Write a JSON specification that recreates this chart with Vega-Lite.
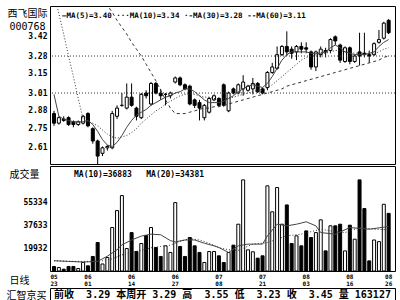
{
  "$schema": "https://vega.github.io/schema/vega-lite/v6.json",
  "padding": {"left": 5, "top": 5, "right": 7, "bottom": 1},
  "background": "white",
  "spacing": 0,
  "config": {
    "view": {"stroke": "black", "strokeWidth": 1},
    "axis": {"labelFont": "DejaVu Sans Mono", "labelFontSize": 8, "labelFontWeight": "bold", "labelColor": "black", "ticks": false, "domain": false, "grid": false, "titleColor": "black", "titleFont": "DejaVu Sans Mono, Noto Sans CJK SC", "titleFontWeight": "normal", "titleFontSize": 10, "labelOverlap": false, "labelPadding": 3},
    "title": {"anchor": "start", "frame": "group", "font": "DejaVu Sans Mono", "fontWeight": "bold", "color": "black", "fontSize": 8}
  },
  "datasets": {
    "k": [
      {"d":"05-23","o":2.86,"h":2.88,"l":2.77,"c":2.79,"v":6080,"m5":3.00,"m10":3.75,"vm10":10500,"vm20":10500},
      {"d":"05-24","o":2.79,"h":2.84,"l":2.78,"c":2.83,"v":5300,"m5":2.84,"m10":3.59},
      {"d":"05-25","o":2.82,"h":2.84,"l":2.80,"c":2.81,"v":4000,"m5":2.82,"m10":3.44},
      {"d":"05-26","o":2.83,"h":2.84,"l":2.77,"c":2.78,"v":6080,"m5":2.81,"m10":3.28,"vm10":10000},
      {"d":"05-27","o":2.80,"h":2.81,"l":2.76,"c":2.78,"v":6080,"m5":2.80,"m10":3.13,"vm20":10000},
      {"d":"05-30","o":2.78,"h":2.81,"l":2.77,"c":2.80,"v":4500,"m5":2.80,"m10":2.97},
      {"d":"05-31","o":2.79,"h":2.85,"l":2.78,"c":2.84,"v":9160,"m5":2.80,"m10":2.82,"vm10":9500},
      {"d":"06-01","o":2.86,"h":2.87,"l":2.76,"c":2.77,"v":6600,"m5":2.81,"m10":2.80},
      {"d":"06-02","o":2.75,"h":2.76,"l":2.64,"c":2.66,"v":13800,"m5":2.78,"m10":2.79,"vm20":10000},
      {"d":"06-03","o":2.66,"h":2.67,"l":2.49,"c":2.55,"v":24550,"m5":2.73,"m10":2.77,"vm10":10000},
      {"d":"06-06","o":2.57,"h":2.62,"l":2.55,"c":2.61,"v":8000,"m5":2.67,"m10":2.74,"m30":3.70,"vm20":10500},
      {"d":"06-07","o":2.61,"h":2.63,"l":2.59,"c":2.62,"v":13000,"m5":2.63,"m10":2.71,"m30":3.65,"vm10":14000},
      {"d":"06-08","o":2.61,"h":2.88,"l":2.60,"c":2.86,"v":36100,"m5":2.62,"m10":2.69,"m30":3.60,"vm20":12000},
      {"d":"06-09","o":2.84,"h":2.92,"l":2.82,"c":2.90,"v":49150,"m5":2.65,"m10":2.68,"m30":3.54,"vm10":19000},
      {"d":"06-10","o":2.92,"h":3.01,"l":2.91,"c":2.92,"v":60700,"m5":2.70,"m10":2.69,"m30":3.49,"vm10":22700,"vm20":15000},
      {"d":"06-13","o":2.90,"h":3.08,"l":2.89,"c":2.98,"v":19900,"m5":2.76,"m10":2.70,"m30":3.44},
      {"d":"06-14","o":2.98,"h":3.08,"l":2.91,"c":2.92,"v":32200,"m5":2.81,"m10":2.72,"m30":3.38,"vm10":26500,"vm20":17000},
      {"d":"06-15","o":2.90,"h":2.91,"l":2.81,"c":2.84,"v":17600,"m5":2.85,"m10":2.75,"m30":3.33},
      {"d":"06-16","o":2.83,"h":3.01,"l":2.82,"c":3.00,"v":23800,"m5":2.87,"m10":2.79,"m30":3.28,"vm10":29500,"vm20":18500},
      {"d":"06-17","o":3.01,"h":3.03,"l":2.97,"c":2.99,"v":29900,"m5":2.89,"m10":2.82,"m30":3.22},
      {"d":"06-20","o":2.93,"h":3.09,"l":2.92,"c":3.08,"v":36100,"m5":2.92,"m10":2.85,"m30":3.16,"vm10":31000,"vm20":20500},
      {"d":"06-21","o":3.08,"h":3.09,"l":3.00,"c":3.01,"v":20700,"m5":2.94,"m10":2.88,"m30":3.10},
      {"d":"06-22","o":3.01,"h":3.04,"l":2.96,"c":2.99,"v":13800,"m5":2.96,"m10":2.90,"m30":3.03,"vm10":30500,"vm20":21500},
      {"d":"06-23","o":3.00,"h":3.01,"l":2.92,"c":3.00,"v":22000,"m5":2.98,"m10":2.93,"m30":2.96},
      {"d":"06-24","o":2.99,"h":3.02,"l":2.97,"c":3.01,"v":16900,"m5":2.99,"m10":2.95,"m30":2.90,"vm10":26000,"vm20":22500},
      {"d":"06-27","o":3.09,"h":3.13,"l":3.08,"c":3.12,"v":55300,"m5":3.01,"m10":2.97,"m30":2.86,"vm10":25000},
      {"d":"06-28","o":3.12,"h":3.13,"l":3.06,"c":3.07,"v":21500,"m5":3.02,"m10":2.99,"m30":2.86,"vm20":25500},
      {"d":"06-29","o":3.07,"h":3.08,"l":3.03,"c":3.04,"v":13800,"m5":3.04,"m10":3.00,"m30":2.86,"vm10":26500},
      {"d":"06-30","o":3.06,"h":3.07,"l":2.92,"c":2.93,"v":28400,"m5":3.04,"m10":3.00,"m30":2.87,"vm20":27500},
      {"d":"07-01","o":2.96,"h":2.97,"l":2.90,"c":2.92,"v":22000,"m5":3.02,"m10":3.00,"m30":2.88,"vm10":26500},
      {"d":"07-04","o":2.94,"h":2.96,"l":2.81,"c":2.90,"v":16900,"m5":2.99,"m10":2.99,"m30":2.89,"vm20":26500},
      {"d":"07-05","o":2.83,"h":2.93,"l":2.81,"c":2.92,"v":9160,"m5":2.96,"m10":2.98,"m30":2.90,"vm10":24000},
      {"d":"07-06","o":2.87,"h":2.98,"l":2.86,"c":2.97,"v":17600,"m5":2.94,"m10":2.98,"m30":2.90,"vm20":24000},
      {"d":"07-07","o":2.96,"h":3.00,"l":2.95,"c":2.99,"v":17600,"m5":2.94,"m10":2.97,"m30":2.91,"vm10":22000},
      {"d":"07-08","o":2.97,"h":2.98,"l":2.91,"c":2.92,"v":14300,"m5":2.94,"m10":2.97,"m30":2.91,"vm10":20700,"vm20":20500},
      {"d":"07-11","o":3.07,"h":3.08,"l":2.91,"c":2.92,"v":9160,"m5":2.95,"m10":2.97,"m30":2.92},
      {"d":"07-12","o":2.88,"h":3.02,"l":2.87,"c":3.01,"v":16850,"m5":2.97,"m10":2.97,"m30":2.93,"vm10":16850,"vm20":19000},
      {"d":"07-13","o":3.04,"h":3.05,"l":3.00,"c":3.01,"v":22500,"m5":2.99,"m10":2.98,"m30":2.94},
      {"d":"07-14","o":3.01,"h":3.08,"l":3.00,"c":3.07,"v":38650,"m5":3.02,"m10":2.99,"m30":2.95,"vm10":22000,"vm20":18500},
      {"d":"07-15","o":3.04,"h":3.14,"l":2.99,"c":3.09,"v":72800,"m5":3.04,"m10":3.00,"m30":2.96},
      {"d":"07-18","o":3.03,"h":3.07,"l":3.02,"c":3.06,"v":18900,"m5":3.06,"m10":3.01,"m30":2.97,"vm10":23300},
      {"d":"07-19","o":3.04,"h":3.12,"l":3.00,"c":3.08,"v":17400,"m5":3.07,"m10":3.02,"m30":2.98,"vm20":23300},
      {"d":"07-20","o":3.08,"h":3.09,"l":3.01,"c":3.02,"v":12500,"m5":3.06,"m10":3.03,"m30":2.99},
      {"d":"07-21","o":3.04,"h":3.05,"l":3.00,"c":3.01,"v":14300,"m5":3.05,"m10":3.03,"m30":3.00,"vm10":23300},
      {"d":"07-22","o":3.05,"h":3.17,"l":3.03,"c":3.16,"v":68200,"m5":3.08,"m10":3.05,"m30":3.01,"vm10":29700,"vm20":24500},
      {"d":"07-25","o":3.16,"h":3.23,"l":3.15,"c":3.20,"v":48200,"m5":3.13,"m10":3.07,"m30":3.02},
      {"d":"07-26","o":3.19,"h":3.35,"l":3.18,"c":3.29,"v":66900,"m5":3.19,"m10":3.10,"m30":3.03,"vm10":38650,"vm20":27100},
      {"d":"07-27","o":3.29,"h":3.36,"l":3.28,"c":3.35,"v":38650,"m5":3.25,"m10":3.13,"m30":3.04},
      {"d":"07-28","o":3.35,"h":3.46,"l":3.28,"c":3.31,"v":53500,"m5":3.29,"m10":3.16,"m30":3.06,"vm10":37400,"vm20":29700},
      {"d":"07-29","o":3.33,"h":3.35,"l":3.26,"c":3.30,"v":23800,"m5":3.31,"m10":3.19,"m30":3.07},
      {"d":"08-01","o":3.31,"h":3.36,"l":3.25,"c":3.35,"v":29700,"m5":3.31,"m10":3.22,"m30":3.08,"vm10":38650},
      {"d":"08-02","o":3.35,"h":3.38,"l":3.30,"c":3.33,"v":22000,"m5":3.31,"m10":3.25,"m30":3.09,"vm20":31000},
      {"d":"08-03","o":3.34,"h":3.38,"l":3.30,"c":3.33,"v":33500,"m5":3.31,"m10":3.27,"m30":3.10,"vm10":40500},
      {"d":"08-04","o":3.31,"h":3.32,"l":3.18,"c":3.20,"v":28400,"m5":3.30,"m10":3.28,"m30":3.11},
      {"d":"08-05","o":3.20,"h":3.32,"l":3.17,"c":3.31,"v":32200,"m5":3.30,"m10":3.29,"m30":3.12,"vm10":37400},
      {"d":"08-08","o":3.29,"h":3.35,"l":3.27,"c":3.33,"v":42000,"m5":3.30,"m10":3.30,"m30":3.13,"vm10":32200,"vm20":34800},
      {"d":"08-09","o":3.32,"h":3.34,"l":3.27,"c":3.31,"v":18100,"m5":3.31,"m10":3.30,"m30":3.14},
      {"d":"08-10","o":3.32,"h":3.41,"l":3.30,"c":3.40,"v":37400,"m5":3.34,"m10":3.31,"m30":3.15,"vm20":33500},
      {"d":"08-11","o":3.42,"h":3.43,"l":3.36,"c":3.39,"v":37400,"m5":3.36,"m10":3.32,"m30":3.16,"vm10":31000},
      {"d":"08-12","o":3.36,"h":3.37,"l":3.23,"c":3.25,"v":38650,"m5":3.34,"m10":3.32,"m30":3.17},
      {"d":"08-15","o":3.24,"h":3.35,"l":3.23,"c":3.34,"v":18100,"m5":3.31,"m10":3.31,"m30":3.18,"vm20":32200},
      {"d":"08-16","o":3.34,"h":3.35,"l":3.22,"c":3.24,"v":37900,"m5":3.30,"m10":3.31,"m30":3.19,"vm10":36100},
      {"d":"08-17","o":3.24,"h":3.29,"l":3.23,"c":3.28,"v":27100,"m5":3.29,"m10":3.30,"m30":3.20},
      {"d":"08-18","o":3.31,"h":3.45,"l":3.21,"c":3.28,"v":72800,"m5":3.29,"m10":3.30,"m30":3.21,"vm20":36100},
      {"d":"08-19","o":3.30,"h":3.45,"l":3.27,"c":3.29,"v":50700,"m5":3.29,"m10":3.30,"m30":3.22},
      {"d":"08-22","o":3.29,"h":3.32,"l":3.23,"c":3.28,"v":10400,"m5":3.30,"m10":3.30,"m30":3.23,"vm10":34800},
      {"d":"08-23","o":3.29,"h":3.38,"l":3.28,"c":3.37,"v":26500,"m5":3.31,"m10":3.30,"m30":3.24,"vm20":34800},
      {"d":"08-24","o":3.38,"h":3.47,"l":3.37,"c":3.40,"v":25227,"m5":3.35,"m10":3.31,"m30":3.25},
      {"d":"08-25","o":3.41,"h":3.53,"l":3.40,"c":3.52,"v":54000,"m5":3.38,"m10":3.33,"m30":3.27},
      {"d":"08-26","o":3.54,"h":3.55,"l":3.44,"c":3.45,"v":47000,"m5":3.40,"m10":3.34,"m30":3.28,"vm10":36883,"vm20":34381}
    ]
  },
  "vconcat": [
    {
      "width": 345,
      "height": 158,
      "title": {"text": "—MA(5)=3.40 ···MA(10)=3.34 ·-MA(30)=3.28 --MA(60)=3.11", "offset": -13, "dx": 12, "fontSize": 7.5},
      "data": {"name": "k"},
      "layer": [
        {
          "mark": {"type": "rule", "color": "black", "strokeWidth": 1, "clip": true},
          "encoding": {
            "x": {"field": "d", "type": "ordinal", "sort": null, "scale": {"paddingInner": 0, "paddingOuter": 0.567, "align": 0.286, "round": false}, "axis": null},
            "y": {"field": "l", "type": "quantitative", "scale": {"domain": [2.492, 3.645], "zero": false, "nice": false},
              "axis": {"values": [2.61, 2.75, 2.88, 3.01, 3.15, 3.28, 3.42], "tickCount": 20, "format": ".2f", "labelOverlap": false, "labelBound": false, "title": ["西飞国际", "000768"], "titleX": -23, "titleY": 2, "titleAngle": 0, "titleAlign": "center", "titleBaseline": "top", "titleLineHeight": 13}},
            "y2": {"field": "h"}
          }
        },
        {
          "mark": {"type": "bar", "size": 3, "stroke": "black", "strokeWidth": 1, "clip": true},
          "encoding": {
            "x": {"field": "d", "type": "ordinal", "sort": null},
            "y": {"field": "o", "type": "quantitative"},
            "y2": {"field": "c"},
            "fill": {"condition": {"test": "datum.c >= datum.o", "value": "white"}, "value": "black"}
          }
        },
        {
          "mark": {"type": "line", "color": "#444", "strokeWidth": 1, "clip": true, "invalid": "filter"},
          "encoding": {"x": {"field": "d", "type": "ordinal", "sort": null}, "y": {"field": "m5", "type": "quantitative"}}
        },
        {
          "mark": {"type": "line", "color": "#333", "strokeWidth": 1, "strokeDash": [1, 2], "clip": true, "invalid": "filter"},
          "encoding": {"x": {"field": "d", "type": "ordinal", "sort": null}, "y": {"field": "m10", "type": "quantitative"}}
        },
        {
          "mark": {"type": "line", "color": "#333", "strokeWidth": 1, "strokeDash": [3, 3], "clip": true, "invalid": "filter"},
          "encoding": {"x": {"field": "d", "type": "ordinal", "sort": null}, "y": {"field": "m30", "type": "quantitative"}}
        },
        {
          "data": {"values": [{"g": 3.28}, {"g": 3.01}]},
          "mark": {"type": "rule", "color": "#333", "strokeDash": [1, 2], "strokeWidth": 1},
          "encoding": {"y": {"field": "g", "type": "quantitative"}}
        }
      ]
    },
    {
      "width": 345,
      "height": 105,
      "title": {"text": "MA(10)=36883\u00a0\u00a0\u00a0MA(20)=34381", "offset": -13, "dx": 24},
      "data": {"name": "k"},
      "layer": [
        {
          "mark": {"type": "bar", "size": 3, "stroke": "black", "strokeWidth": 1, "clip": true},
          "encoding": {
            "x": {"field": "d", "type": "ordinal", "sort": null, "scale": {"paddingInner": 0, "paddingOuter": 0.567, "align": 0.286, "round": false},
              "axis": {"values": ["05-23", "06-01", "06-14", "06-27", "07-08", "07-21", "08-03", "08-16", "08-26"], "labelExpr": "split(datum.value, '-')", "labelFontSize": 6, "labelLineHeight": 7, "labelAngle": 0, "labelPadding": 2, "labelBound": false, "title": "日线", "titleX": -41, "titleY": 4, "titleAlign": "left", "titleBaseline": "top", "titleAngle": 0}},
            "y": {"field": "v", "type": "quantitative", "scale": {"domain": [2600, 83500], "zero": false, "nice": false},
              "axis": {"values": [19932, 37633, 55334], "tickCount": 10, "format": "d", "labelOverlap": false, "title": "成交量", "titleX": -41, "titleY": 3, "titleAngle": 0, "titleAlign": "left", "titleBaseline": "top"}},
            "y2": {"datum": 2600},
            "fill": {"condition": {"test": "datum.c >= datum.o", "value": "white"}, "value": "black"}
          }
        },
        {
          "mark": {"type": "line", "color": "#444", "strokeWidth": 1, "clip": true, "invalid": "filter"},
          "encoding": {"x": {"field": "d", "type": "ordinal", "sort": null}, "y": {"field": "vm10", "type": "quantitative"}}
        },
        {
          "mark": {"type": "line", "color": "#333", "strokeWidth": 1, "strokeDash": [1, 2], "clip": true, "invalid": "filter"},
          "encoding": {"x": {"field": "d", "type": "ordinal", "sort": null}, "y": {"field": "vm20", "type": "quantitative"}}
        }
      ]
    },
    {
      "width": 345,
      "height": 14,
      "data": {"values": [{"t": "前收\u00a0\u00a03.29\u00a0本周开\u00a03.29\u00a0高\u00a0\u00a03.55\u00a0低\u00a0\u00a03.23\u00a0收\u00a0\u00a03.45\u00a0量\u00a0163127"}]},
      "mark": {"type": "text", "font": "DejaVu Sans Mono, Noto Sans CJK SC", "fontSize": 10, "fontWeight": "bold", "color": "black", "align": "center", "baseline": "middle"},
      "encoding": {
        "text": {"field": "t"},
        "y": {"field": "t", "type": "nominal", "axis": {"labels": false, "title": "汇智京买", "titleX": -44, "titleY": 7, "titleAngle": 0, "titleAlign": "left", "titleBaseline": "middle"}}
      }
    }
  ]
}
